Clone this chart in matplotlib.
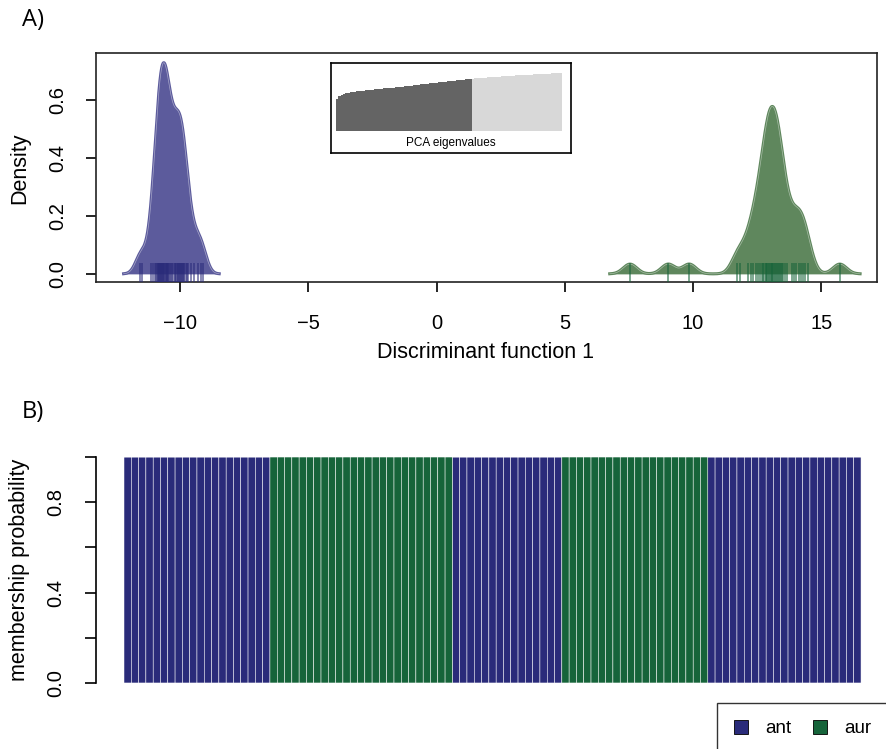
import numpy as np
import matplotlib
matplotlib.use("Agg")
import matplotlib.pyplot as plt
from matplotlib.patches import Patch

plt.rcParams['font.family'] = ['Liberation Sans', 'DejaVu Sans']

# discriminant function 1 scores per individual
ant_scores = [-11.56, -11.48,
              -11.15, -11.04, -10.98, -10.94, -10.91, -10.88, -10.85, -10.83,
              -10.81, -10.79, -10.77, -10.75, -10.73, -10.71, -10.69, -10.67,
              -10.65, -10.63, -10.61, -10.59, -10.57, -10.55, -10.53, -10.51,
              -10.49, -10.46, -10.43, -10.38, -10.32, -10.21,
              -10.37, -10.27, -10.21, -10.17, -10.13, -10.10, -10.07, -10.04,
              -10.02, -9.99, -9.97, -9.94, -9.92, -9.89, -9.86, -9.83,
              -9.79, -9.75, -9.69, -9.59,
              -9.45, -9.30, -9.20, -9.12]
aur_scores = [7.54, 9.03, 9.85,
              11.72, 11.82, 12.15, 12.25,
              12.35, 12.45, 12.52, 12.62, 12.68, 12.74, 12.78, 12.83, 12.86, 12.90,
              12.93, 12.97, 13.00, 13.03, 13.06, 13.09, 13.11, 13.17, 13.20, 13.23,
              13.27, 13.30, 13.34, 13.37, 13.42, 13.46, 13.52, 13.58, 13.68, 13.85,
              13.92, 14.02, 14.12, 14.20, 14.28, 14.37, 14.48,
              15.72]

# cumulative PCA variance (first 60 PCs retained)
pca_cumvar = [0.557, 0.598, 0.622, 0.638, 0.650, 0.659, 0.666, 0.672, 0.677, 0.682,
              0.687, 0.692, 0.697, 0.701, 0.705, 0.709, 0.713, 0.717, 0.721, 0.725,
              0.729, 0.733, 0.737, 0.741, 0.745, 0.749, 0.753, 0.757, 0.761, 0.765,
              0.770, 0.774, 0.779, 0.783, 0.788, 0.792, 0.797, 0.802, 0.806, 0.811,
              0.815, 0.820, 0.824, 0.829, 0.833, 0.838, 0.842, 0.847, 0.851, 0.856,
              0.860, 0.865, 0.869, 0.873, 0.877, 0.881, 0.885, 0.889, 0.893, 0.897,
              0.903, 0.906, 0.909, 0.912, 0.915, 0.918, 0.921, 0.924, 0.927, 0.930,
              0.933, 0.936, 0.939, 0.942, 0.945, 0.947, 0.950, 0.952, 0.955, 0.957,
              0.960, 0.962, 0.964, 0.967, 0.969, 0.971, 0.973, 0.976, 0.978, 0.980,
              0.982, 0.984, 0.986, 0.988, 0.990, 0.992, 0.994, 0.996, 0.998, 1.000]
n_pca_kept = 60

# sample order in the composition plot
group_runs = ['ant', 'aur', 'ant', 'aur', 'ant']
run_sizes = [20, 25, 15, 20, 21]

col_ant = '#2a2b7a'
col_aur = '#16643a'
fill_ant = '#5c5b9c'
fill_aur = '#5f875d'


def density(x):
    # gaussian kernel, bw.nrd0 like R
    x = np.asarray(x)
    n = len(x)
    q75, q25 = np.percentile(x, [75, 25])
    bw = 0.9 * min(x.std(ddof=1), (q75 - q25) / 1.34) * n ** -0.2
    grid = np.linspace(x.min() - 3 * bw, x.max() + 3 * bw, 512)
    d = np.exp(-0.5 * ((grid[:, None] - x[None, :]) / bw) ** 2).sum(1)
    return grid, d / (n * bw * np.sqrt(2 * np.pi))


W, H = 887, 749
fig = plt.figure(figsize=(W / 100, H / 100), dpi=100)

# ---- A) density of discriminant function ----
ax1 = fig.add_axes([96 / W, 1 - 282 / H, 781 / W, 229 / H])
for scores, fcol, rcol in [(ant_scores, fill_ant, col_ant), (aur_scores, fill_aur, col_aur)]:
    gx, gy = density(scores)
    ax1.fill_between(gx, 0, gy, color=fcol, lw=0, zorder=2)
    ax1.plot(gx, gy, color=fcol, lw=2.2, zorder=2)
    ax1.plot(gx, gy, color='white', lw=0.5, alpha=0.45, zorder=3)
    ax1.vlines(scores, -0.03, 0.038, color=rcol, lw=1.3, alpha=0.6, zorder=4)

ax1.set_xlim(-13.28, 17.17)
ax1.set_ylim(-0.028, 0.761)
ax1.set_xticks([-10, -5, 0, 5, 10, 15])
ax1.set_yticks([0, 0.2, 0.4, 0.6])
ax1.set_yticklabels(['0.0', '0.2', '0.4', '0.6'], rotation=90, va='center')
ax1.tick_params(direction='out', length=7, width=1.2, labelsize=14.5)
ax1.tick_params(axis='x', pad=16)
ax1.tick_params(axis='y', pad=14)
for s in ax1.spines.values():
    s.set_linewidth(1.2)
    s.set_color('#222222')

fig.text(20 / W, 1 - 168 / H, 'Density', rotation=90, ha='center', va='center', fontsize=15.5)
fig.text(486 / W, 1 - 352 / H, 'Discriminant function 1', ha='center', va='center', fontsize=15.5)

# inset with PCA eigenvalues
axi = fig.add_axes([331 / W, 1 - 153 / H, 240 / W, 90 / H])
idx = np.arange(len(pca_cumvar))
eig_cols = ['#646464' if i < n_pca_kept else '#d8d8d8' for i in idx]
axi.bar(idx, pca_cumvar, width=1, color=eig_cols, lw=0)
axi.set_xlim(-2.71, 103.48)
axi.set_ylim(-0.379, 1.172)
axi.set_xticks([])
axi.set_yticks([])
for s in axi.spines.values():
    s.set_linewidth(1.2)
axi.text(0.5, 0.11, 'PCA eigenvalues', transform=axi.transAxes, ha='center', va='center', fontsize=8.5)

# ---- B) membership probabilities ----
groups = np.repeat(group_runs, run_sizes)
p_ant = np.where(groups == 'ant', 1.0, 0.0)
p_aur = 1.0 - p_ant
ind = np.arange(len(groups))

ax2 = fig.add_axes([96 / W, 1 - 692 / H, 781 / W, 244 / H])
ax2.bar(ind, p_ant, width=1, color=col_ant, edgecolor='white', lw=0.35, snap=False)
ax2.bar(ind, p_aur, width=1, bottom=p_ant, color=col_aur, edgecolor='white', lw=0.35, snap=False)
ax2.set_xlim(-4.337, 102.69)
ax2.set_ylim(-0.04, 1.04)
for k in ['top', 'right', 'bottom']:
    ax2.spines[k].set_visible(False)
ax2.spines['left'].set_bounds(0, 1)
ax2.spines['left'].set_linewidth(1.2)
ax2.set_xticks([])
ax2.set_yticks([0, 0.2, 0.4, 0.6, 0.8, 1.0])
ax2.set_yticklabels(['0.0', '', '0.4', '', '0.8', ''], rotation=90, va='center')
ax2.tick_params(direction='out', length=8, width=1.2, labelsize=14.5, pad=14)
fig.text(20 / W, 1 - 570 / H, 'membership probability', rotation=90, ha='center', va='center',
         fontsize=15.5)

handles = [Patch(facecolor=col_ant, edgecolor='black', lw=0.6),
           Patch(facecolor=col_aur, edgecolor='black', lw=0.6)]
fig.legend(handles, ['ant', 'aur'], loc='upper left', bbox_to_anchor=(717 / W, 1 - 703 / H),
           ncol=2, fontsize=13.5, frameon=True, fancybox=False, edgecolor='black',
           handlelength=0.75, handleheight=0.75, handletextpad=0.9, columnspacing=1.2,
           borderpad=0.9, borderaxespad=0)

fig.text(33 / W, 1 - 20 / H, 'A)', ha='center', va='center', fontsize=17, family='Open Sans')
fig.text(33 / W, 1 - 412 / H, 'B)', ha='center', va='center', fontsize=17, family='Open Sans')

fig.savefig('out.png', dpi=100)
